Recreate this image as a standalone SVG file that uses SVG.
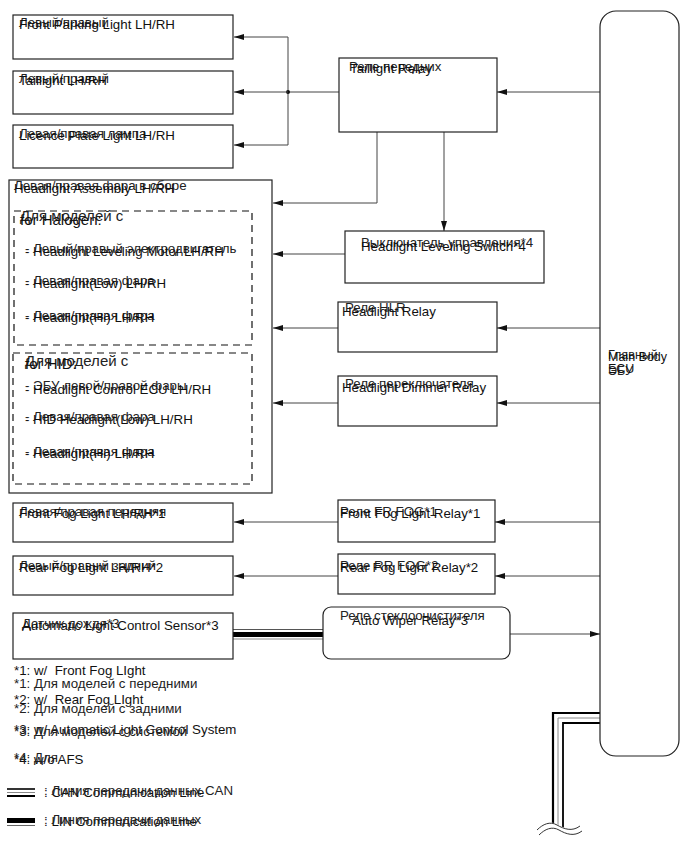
<svg xmlns="http://www.w3.org/2000/svg" width="690" height="855" viewBox="0 0 690 855">
<style>
text{font-family:"Liberation Sans",Arial,sans-serif;font-size:13.3px;fill:#111;white-space:pre}
.ru{fill:#222}
.sm{font-size:12.5px}
.big{font-size:15px}
.box{fill:#fff;stroke:#222;stroke-width:1.2}
.dash{fill:none;stroke:#111;stroke-width:1.2;stroke-dasharray:7,5}
.ln{fill:none;stroke:#444;stroke-width:1}
</style>
<defs>
<marker id="ah" markerUnits="userSpaceOnUse" markerWidth="10" markerHeight="6" refX="10" refY="3" orient="auto"><path d="M0,0 L10,3 L0,6 z" fill="#111"/></marker>
</defs>
<rect width="690" height="855" fill="#fff"/>

<g id="connectors">
<path class="ln" d="M600,92 H497" marker-end="url(#ah)"/>
<path class="ln" d="M339,92 H288"/>
<path class="ln" d="M288,37 V145"/>
<circle cx="288" cy="92" r="2" fill="#111"/>
<path class="ln" d="M288,37 H234" marker-end="url(#ah)"/>
<path class="ln" d="M288,92 H234" marker-end="url(#ah)"/>
<path class="ln" d="M288,145 H234" marker-end="url(#ah)"/>
<path class="ln" d="M377,132 V203 H273" marker-end="url(#ah)"/>
<path class="ln" d="M444,132 V231" marker-end="url(#ah)"/>
<path class="ln" d="M345,254 H273" marker-end="url(#ah)"/>
<path class="ln" d="M600,328 H497" marker-end="url(#ah)"/>
<path class="ln" d="M338,328 H273" marker-end="url(#ah)"/>
<path class="ln" d="M600,403 H497" marker-end="url(#ah)"/>
<path class="ln" d="M338,403 H273" marker-end="url(#ah)"/>
<path class="ln" d="M600,522 H495" marker-end="url(#ah)"/>
<path class="ln" d="M338,522 H234" marker-end="url(#ah)"/>
<path class="ln" d="M600,576 H495" marker-end="url(#ah)"/>
<path class="ln" d="M338,576 H234" marker-end="url(#ah)"/>
<path class="ln" d="M510,634 H600" marker-end="url(#ah)"/>
<path d="M233,629.5 H323" stroke="#555" stroke-width="1" fill="none"/>
<path d="M233,634.5 H323" stroke="#000" stroke-width="5" fill="none"/>
<path d="M233,639 H323" stroke="#888" stroke-width="1" fill="none"/>
<path d="M600,713 H553 V826" stroke="#000" stroke-width="2.2" fill="none"/>
<path d="M600,718 H558 V828" stroke="#888" stroke-width="1" fill="none"/>
<path d="M600,723 H563 V830" stroke="#000" stroke-width="1.8" fill="none"/>
<path d="M537,832 C543,826 550,823 557,827 S572,834 580,828" stroke="#fff" stroke-width="5" fill="none"/>
<path d="M537,830 C543,824 550,821 557,825 S572,832 580,826" stroke="#333" stroke-width="1" fill="none"/>
<path d="M539,835 C545,829 552,826 559,830 S574,837 582,831" stroke="#333" stroke-width="1" fill="none"/>
</g>

<g id="front-parking-light">
<rect class="box" x="13" y="15" width="220" height="44"/>
<text class="ru" x="19" y="27">Левый/правый</text>
<text x="19" y="29">Front Parking Light LH/RH</text>
</g>
<g id="taillight">
<rect class="box" x="13" y="71" width="220" height="43"/>
<text class="ru" x="19" y="83">Левый/правый</text>
<text x="19" y="85">Taillight LH/RH</text>
</g>
<g id="licence-plate-light">
<rect class="box" x="13" y="125" width="220" height="43"/>
<text class="ru" x="19" y="138">Левая/правая лампа</text>
<text x="19" y="140">Licence Plate Light LH/RH</text>
</g>
<g id="taillight-relay">
<rect class="box" x="339" y="58" width="158" height="74"/>
<text class="ru" x="349" y="71">Реле передних</text>
<text x="350" y="73">Taillight Relay</text>
</g>

<g id="headlight-assembly">
<rect class="box" x="9" y="180" width="263" height="313"/>
<text class="ru" x="14" y="190">Левая/правая фара в сборе</text>
<text x="14" y="193">Headlight Assembly LH/RH</text>
<rect class="dash" x="14" y="211" width="238" height="134"/>
<text class="ru big" x="20" y="221">Для моделей с</text>
<text class="big" x="20" y="225">for Halogen:</text>
<text class="ru" x="25" y="253">- Левый/правый электродвигатель</text>
<text x="25" y="256">- Headlight Leveling Motor LH/RH</text>
<text class="ru" x="25" y="285">- Левая/правая фара</text>
<text x="25" y="288">- Headlight(Low) LH/RH</text>
<text class="ru" x="25" y="320">- Левая/правая фара</text>
<text x="25" y="322">- Headlight(Hi) LH/RH</text>
<rect class="dash" x="13" y="353" width="239" height="131"/>
<text class="ru big" x="25" y="366">Для моделей с</text>
<text class="big" x="25" y="369">for HID:</text>
<text class="ru" x="25" y="390">- ЭБУ левой/правой фары</text>
<text x="25" y="394">- Headlight Control ECU LH/RH</text>
<text class="ru" x="25" y="421">- Левая/правая фара</text>
<text x="25" y="424">- HID Headlight(Low) LH/RH</text>
<text class="ru" x="25" y="456">- Левая/правая фара</text>
<text x="25" y="458">- Headlight(Hi) LH/RH</text>
</g>

<g id="headlight-leveling-switch">
<rect class="box" x="345" y="231" width="199" height="52"/>
<text class="ru" x="361" y="247">Выключатель управления*4</text>
<text x="361" y="251">Headlight Leveling Switch*4</text>
</g>
<g id="headlight-relay">
<rect class="box" x="338" y="302" width="159" height="50"/>
<text class="ru" x="345" y="312">Реле HLR</text>
<text x="342" y="316">Headlight Relay</text>
</g>
<g id="headlight-dimmer-relay">
<rect class="box" x="338" y="376" width="159" height="50"/>
<text class="ru" x="345" y="388">Реле переключателя</text>
<text x="342" y="392">Headlight Dimmer Relay</text>
</g>

<g id="front-fog-light">
<rect class="box" x="13" y="503" width="220" height="39"/>
<text class="ru" x="19" y="516">Левая/правая передняя</text>
<text x="19" y="518">Front Fog Light LH/RH*1</text>
</g>
<g id="rear-fog-light">
<rect class="box" x="13" y="556" width="220" height="39"/>
<text class="ru" x="19" y="570">Левый/правый задний</text>
<text x="19" y="572">Rear Fog Light LH/RH*2</text>
</g>
<g id="automatic-light-control-sensor">
<rect class="box" x="13" y="613" width="220" height="46"/>
<text class="ru" x="22" y="628">Датчик дождя*3</text>
<text x="22" y="630">Automatic Light Control Sensor*3</text>
</g>
<g id="front-fog-light-relay">
<rect class="box" x="338" y="500" width="157" height="42"/>
<text class="ru" x="340" y="516">Реле FR FOG*1</text>
<text x="340" y="518">Front Fog Light Relay*1</text>
</g>
<g id="rear-fog-light-relay">
<rect class="box" x="338" y="554" width="157" height="40"/>
<text class="ru" x="340" y="570">Реле RR FOG*2</text>
<text x="340" y="572">Rear Fog Light Relay*2</text>
</g>
<g id="auto-wiper-relay">
<rect class="box" x="323" y="607" width="187" height="52" rx="8"/>
<text class="ru" x="340" y="620">Реле стеклоочистителя</text>
<text x="352" y="625">Auto Wiper Relay*3</text>
</g>

<g id="main-body-ecu">
<rect class="box" x="600" y="11" width="79" height="745" rx="16"/>
<text class="ru sm" x="608" y="359">Главный</text>
<text class="sm" x="608" y="361">Main Body</text>
<text class="ru sm" x="608" y="375">ЭБУ</text>
<text class="sm" x="608" y="373">ECU</text>
</g>

<g id="footnotes">
<text x="14" y="675">*1: w/  Front Fog LIght</text>
<text class="ru" x="14" y="688">*1: Для моделей с передними</text>
<text x="14" y="704">*2: w/  Rear Fog LIght</text>
<text class="ru" x="14" y="713">*2: Для моделей с задними</text>
<text x="14" y="734">*3: w/ Automatic Light Control System</text>
<text class="ru" x="14" y="736">*3: Для моделей с системой</text>
<text x="14" y="764">*4: w/o AFS</text>
<text class="ru" x="14" y="762">*4: Для</text>
</g>

<g id="legend">
<path d="M7,789 H35" stroke="#000" stroke-width="1.6"/>
<path d="M7,792.5 H35" stroke="#888" stroke-width="1"/>
<path d="M7,796 H35" stroke="#000" stroke-width="2"/>
<text x="44" y="797">: CAN Communication Line</text>
<text class="ru" x="44" y="795">: Линия передачи данных CAN</text>
<rect x="7" y="818" width="28" height="5" fill="#000"/>
<path d="M7,825.5 H35" stroke="#666" stroke-width="1"/>
<text x="44" y="826">: LIN Communication Line</text>
<text class="ru" x="44" y="824">: Линия передачи данных</text>
</g>
</svg>
